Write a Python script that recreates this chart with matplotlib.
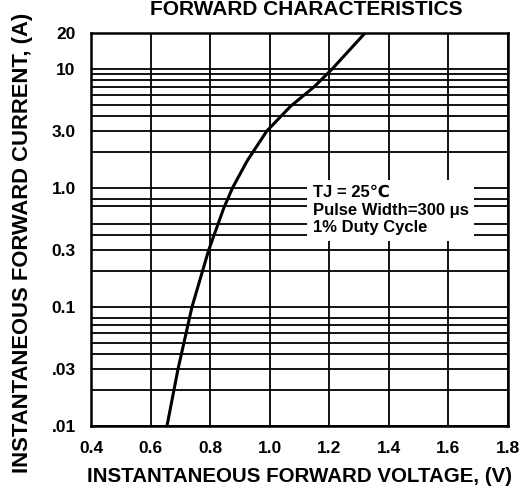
import matplotlib
matplotlib.use("Agg")
import matplotlib.pyplot as plt

# forward curve
volts = [0.655, 0.692, 0.739, 0.795, 0.823, 0.845, 0.875, 0.925, 0.99, 1.07, 1.15, 1.21, 1.32]
amps = [0.01, 0.03, 0.1, 0.3, 0.47, 0.67, 1.0, 1.7, 3.0, 4.85, 7.1, 10.0, 20.0]

x_ticks = [0.4, 0.6, 0.8, 1.0, 1.2, 1.4, 1.6, 1.8]
x_labels = ["0.4", "0.6", "0.8", "1.0", "1.2", "1.4", "1.6", "1.8"]
y_ticks = [0.01, 0.03, 0.1, 0.3, 1.0, 3.0, 10.0, 20.0]
y_labels = [".01", ".03", "0.1", "0.3", "1.0", "3.0", "10", "20"]
y_grid = [0.02, 0.04, 0.05, 0.06, 0.07, 0.08, 0.2, 0.4, 0.5, 0.7, 0.8,
          2.0, 4.0, 5.0, 6.0, 7.0, 8.0, 9.0]

plt.rcParams['font.family'] = ['Liberation Sans', 'DejaVu Sans']
plt.rcParams['font.weight'] = 'bold'

fig = plt.figure(figsize=(5.31, 4.95), dpi=100)
ax = fig.add_axes([0.1714, 0.1394, 0.7853, 0.7939])

ax.set_yscale('log')
ax.set_xlim(0.4, 1.8)
ax.set_ylim(0.01, 20)

ax.set_xticks(x_ticks)
ax.set_xticklabels(x_labels)
ax.set_yticks(y_ticks)
ax.set_yticklabels(y_labels)
ax.set_yticks(y_grid, minor=True)
ax.yaxis.set_minor_formatter(matplotlib.ticker.NullFormatter())
ax.tick_params(which='both', length=0, labelsize=12.5)
ax.tick_params(axis='x', pad=11)
ax.tick_params(axis='y', pad=11)

ax.grid(True, which='both', color='black', linewidth=1.3)
ax.set_axisbelow(True)
for s in ax.spines.values():
    s.set_linewidth(1.8)

ax.plot(volts, amps, color='black', linewidth=2.2, zorder=3)

ax.text(1.145, 0.65, "TJ = 25\u2103\nPulse Width=300 \u03bcs\n1% Duty Cycle",
        fontsize=12, fontweight='bold', va='center', ha='left',
        linespacing=1.2, zorder=4,
        bbox=dict(facecolor='white', edgecolor='none', pad=4))

ax.set_xlabel("INSTANTANEOUS FORWARD VOLTAGE, (V)", fontsize=14.8, fontweight='bold', labelpad=8)
ax.set_ylabel("INSTANTANEOUS FORWARD CURRENT, (A)", fontsize=15.8, fontweight='bold')
ax.yaxis.label.set_va('center')
ax.yaxis.set_label_coords(-0.165, 0.466)

fig.text(0.577, 1 - 15 / 495, "FORWARD CHARACTERISTICS", fontsize=15, fontweight='bold',
         ha='center', va='baseline')

fig.savefig("out.png", dpi=100)
